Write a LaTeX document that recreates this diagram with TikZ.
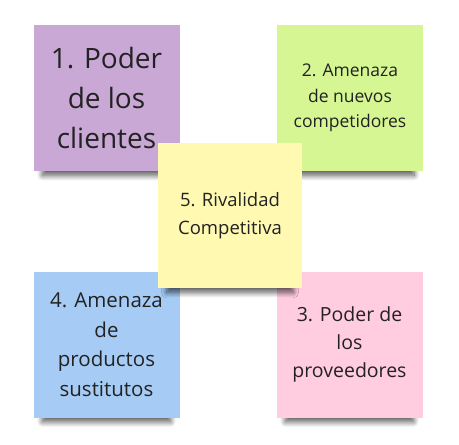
\documentclass[tikz,border=0pt]{standalone}
\usepackage{fontspec}
\setmainfont{Open Sans}
\usetikzlibrary{positioning, shadows.blur}

\definecolor{stickyviolet}{HTML}{C9A8D6}
\definecolor{stickygreen}{HTML}{D5F692}
\definecolor{stickyyellow}{HTML}{FFF9B1}
\definecolor{stickyblue}{HTML}{A6CCF5}
\definecolor{stickypink}{HTML}{FFCCE0}
\definecolor{notetext}{HTML}{222222}

\begin{document}
\begin{tikzpicture}[x=1pt, y=1pt, on grid,
    note/.style={rectangle, minimum width=146pt, minimum height=146pt,
        inner sep=0pt, align=center, text=notetext,
        blur shadow={shadow xshift=0pt, shadow yshift=-15pt, shadow scale=0.88,
            shadow opacity=65, shadow blur radius=6pt, shadow blur steps=12}}]
    \useasboundingbox (0,0) rectangle (459,-445);
    % the four forces round the corners
    \node[note, fill=stickyviolet, font=\fontsize{28}{40}\selectfont] (clientes) at (106.5,-98) {1. Poder\\de los\\clientes};
    \node[note, fill=stickygreen, font=\fontsize{17.5}{25.5}\selectfont] (nuevos) [right=243.5pt of clientes] {2. Amenaza\\de nuevos\\competidores};
    \node[note, fill=stickyblue, font=\fontsize{20.5}{29.5}\selectfont] (sustitutos) [below=246.5pt of clientes] {4. Amenaza\\de\\productos\\sustitutos};
    \node[note, fill=stickypink, font=\fontsize{19.5}{28}\selectfont] (proveedores) [right=243pt of sustitutos] {3. Poder de\\los\\proveedores};
    % rivalry in the middle, on top
    \node[note, minimum width=144pt, minimum height=145pt, fill=stickyyellow, font=\fontsize{18.5}{28}\selectfont] (rivalidad) at (230,-215.5) {5. Rivalidad\\Competitiva};
\end{tikzpicture}
\end{document}
